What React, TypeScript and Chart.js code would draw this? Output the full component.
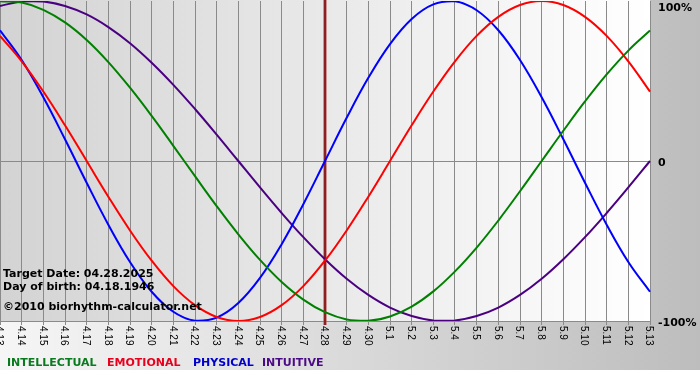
import React, { useEffect, useRef } from "react";
import { Chart, registerables } from "chart.js";

Chart.register(...registerables);

// ---- data (values in percent) ----
const dayLabels = [
  "4.13", "4.14", "4.15", "4.16", "4.17", "4.18", "4.19", "4.20", "4.21", "4.22",
  "4.23", "4.24", "4.25", "4.26", "4.27", "4.28", "4.29", "4.30", "5.1", "5.2",
  "5.3", "5.4", "5.5", "5.6", "5.7", "5.8", "5.9", "5.10", "5.11", "5.12", "5.13",
];

const intellectual = [
  99.9, 99.0, 94.5, 86.6, 75.6, 61.8, 45.8, 28.2, 9.5, -9.5, -28.2, -45.8, -61.8,
  -75.6, -86.6, -94.5, -99.0, -99.9, -97.2, -91.0, -81.5, -69.0, -54.1, -37.2,
  -18.9, 0, 18.9, 37.2, 54.1, 69.0, 81.5,
];
const emotional = [
  78.2, 62.3, 43.4, 22.3, 0, -22.3, -43.4, -62.3, -78.2, -90.1, -97.5, -100,
  -97.5, -90.1, -78.2, -62.3, -43.4, -22.3, 0, 22.3, 43.4, 62.3, 78.2, 90.1,
  97.5, 100, 97.5, 90.1, 78.2, 62.3, 43.4,
];
const physical = [
  81.7, 63.1, 39.8, 13.6, -13.6, -39.8, -63.1, -81.7, -94.2, -99.8, -97.9, -88.8,
  -73.1, -52.0, -27.0, 0, 27.0, 52.0, 73.1, 88.8, 97.9, 99.8, 94.2, 81.7, 63.1,
  39.8, 13.6, -13.6, -39.8, -63.1, -81.7,
];
const intuitive = [
  96.9, 99.7, 99.7, 96.9, 91.6, 83.7, 73.6, 61.4, 47.6, 32.5, 16.5, 0, -16.5,
  -32.5, -47.6, -61.4, -73.6, -83.7, -91.6, -96.9, -99.7, -99.7, -96.9, -91.6,
  -83.7, -73.6, -61.4, -47.6, -32.5, -16.5, 0,
];

const yTickValues = [100, 0, -100];
const yTickLabels = ["100%", "0", "-100%"];
const targetDay = "4.28";
const infoLines = [
  "Target Date: 04.28.2025",
  "Day of birth: 04.18.1946",
  "\u00A92010 biorhythm-calculator.net",
];
const legendNames = ["INTELLECTUAL", "EMOTIONAL", "PHYSICAL", "INTUITIVE"];

// ---- styles ----
const lineColors = ["#008000", "#ff0000", "#0000ff", "#4b0082"];
const legendColors = ["#0a7a1e", "#e8001c", "#0000cc", "#4b0a86"];
const legendX = [7, 107, 193, 262];
const infoBaselines = [277, 290, 310];
const BOLD = "bold 11px 'DejaVu Sans', Verdana, sans-serif";

const decorPlugin = {
  id: "decor",
  beforeDraw(chart: any) {
    const { ctx, chartArea: ca, width, height } = chart;
    ctx.save();
    ctx.fillStyle = "#ffffff";
    ctx.fillRect(0, 0, width, height);
    let g = ctx.createLinearGradient(0, 0, width, 0);
    g.addColorStop(0, "#f6f6f6");
    g.addColorStop(1, "#bdbdbd");
    ctx.fillStyle = g;
    ctx.fillRect(0, 0, width, 370);
    g = ctx.createLinearGradient(ca.left, 0, ca.right, 0);
    g.addColorStop(0, "#d3d3d3");
    g.addColorStop(1, "#ffffff");
    ctx.fillStyle = g;
    ctx.fillRect(ca.left, 0, ca.right - ca.left, ca.bottom);
    ctx.restore();
  },
  beforeDatasetsDraw(chart: any) {
    const { ctx, chartArea: ca } = chart;
    const x = chart.scales.x.getPixelForValue(dayLabels.indexOf(targetDay));
    ctx.save();
    ctx.strokeStyle = "#b04040";
    ctx.lineWidth = 3;
    ctx.beginPath();
    ctx.moveTo(x, 0);
    ctx.lineTo(x, ca.bottom + 4);
    ctx.stroke();
    ctx.strokeStyle = "#6a0000";
    ctx.lineWidth = 1;
    ctx.beginPath();
    ctx.moveTo(x, 0);
    ctx.lineTo(x, ca.bottom + 4);
    ctx.stroke();
    ctx.restore();
  },
  afterDatasetsDraw(chart: any) {
    const { ctx, chartArea: ca } = chart;
    const xs = chart.scales.x;
    const ys = chart.scales.y;
    ctx.save();
    // rotated day labels (reading top to bottom)
    ctx.fillStyle = "#000000";
    ctx.font = "10px 'Liberation Sans', Arial, sans-serif";
    ctx.textAlign = "left";
    ctx.textBaseline = "alphabetic";
    dayLabels.forEach((lab, i) => {
      const x = xs.getPixelForValue(i);
      ctx.save();
      ctx.translate(x, ca.bottom + 5);
      ctx.rotate(Math.PI / 2);
      ctx.fillText(lab, 0, 3.6);
      ctx.restore();
    });
    // y labels on the right
    ctx.font = BOLD;
    yTickValues.forEach((v, i) => {
      const y = Math.max(ys.getPixelForValue(v) + 5, 11);
      ctx.fillText(yTickLabels[i], ca.right + 8, y);
    });
    // info text
    infoLines.forEach((t, i) => {
      ctx.fillText(t, 3, infoBaselines[i]);
    });
    // legend
    legendNames.forEach((t, i) => {
      ctx.fillStyle = legendColors[i];
      ctx.fillText(t, legendX[i], 366);
    });
    ctx.restore();
  },
};

export default function App() {
  const canvasRef = useRef<HTMLCanvasElement | null>(null);

  useEffect(() => {
    document.body.style.margin = "0";
    const canvas = canvasRef.current;
    if (!canvas) return;
    const series = [intellectual, emotional, physical, intuitive];
    const chart = new Chart(canvas, {
      type: "line",
      data: {
        labels: dayLabels,
        datasets: series.map((d, i) => ({
          label: legendNames[i],
          data: d,
          borderColor: lineColors[i],
          borderWidth: 2,
          pointRadius: 0,
          tension: 0.4,
          fill: false,
        })),
      },
      options: {
        responsive: false,
        animation: false,
        devicePixelRatio: 1,
        layout: { padding: { left: 0, right: 50, top: 1, bottom: 55 } },
        plugins: { legend: { display: false }, tooltip: { enabled: false } },
        events: [],
        scales: {
          x: {
            type: "category",
            offset: false,
            ticks: { display: false },
            grid: {
              color: "#8a8a8a",
              lineWidth: 1,
              drawTicks: true,
              tickLength: 4,
            },
            border: { display: true, color: "#8a8a8a" },
          },
          y: {
            position: "right",
            min: -100,
            max: 100,
            afterBuildTicks: (scale: any) => {
              scale.ticks = yTickValues.map((v) => ({ value: v }));
            },
            ticks: { display: false },
            grid: {
              drawTicks: false,
              color: (c: any) => (c.tick && c.tick.value === 0 ? "#8a8a8a" : "rgba(0,0,0,0)"),
            },
            border: { display: false },
          },
        },
      },
      plugins: [decorPlugin],
    } as any);
    return () => chart.destroy();
  }, []);

  return (
    <div style={{ position: "absolute", left: 0, top: 0, width: 700, height: 380 }}>
      <canvas ref={canvasRef} width={700} height={380} style={{ display: "block", width: 700, height: 380 }} />
    </div>
  );
}
